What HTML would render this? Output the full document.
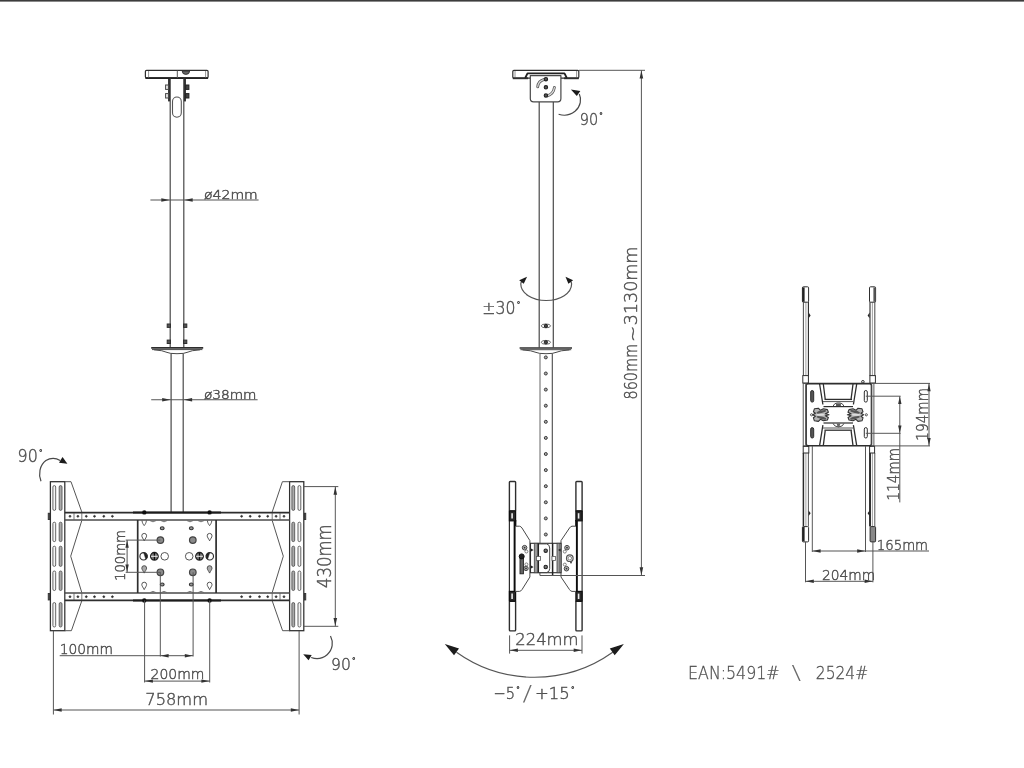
<!DOCTYPE html>
<html><head><meta charset="utf-8"><title>Ceiling mount dimensions</title>
<style>
html,body{margin:0;padding:0;background:#fff;}
body{width:1024px;height:768px;overflow:hidden;}
svg{display:block;}
</style></head>
<body>
<svg width="1024" height="768" viewBox="0 0 1024 768">
<defs><filter id="soft" x="-2%" y="-2%" width="104%" height="104%"><feGaussianBlur stdDeviation="0.35"/></filter></defs>
<rect x="0" y="0" width="1024" height="768" fill="#fff"/>
<rect x="0" y="0" width="1024" height="1.6" fill="#3c3c3c"/>
<g filter="url(#soft)">
<rect x="145.4" y="70.3" width="62.7" height="7.6" rx="1.2" stroke="#2e2e2e" stroke-width="1.2" fill="none"/>
<line x1="145.4" y1="78.1" x2="208.1" y2="78.1" stroke="#222" stroke-width="1.9" />
<line x1="177.3" y1="70.5" x2="177.3" y2="78" stroke="#555" stroke-width="1" />
<line x1="148.6" y1="71" x2="148.6" y2="77.5" stroke="#777" stroke-width="0.8" />
<line x1="205.6" y1="71" x2="205.6" y2="77.5" stroke="#777" stroke-width="0.8" />
<path d="M182.2,71 A3.7,3.4 0 0 0 189.6,71 Z" stroke="#2e2e2e" stroke-width="0.9" fill="#666" stroke-linejoin="round" />
<line x1="169.1" y1="78.5" x2="169.1" y2="101.4" stroke="#222" stroke-width="2.0" />
<line x1="184.9" y1="78.5" x2="184.9" y2="101.4" stroke="#222" stroke-width="2.0" />
<rect x="165.6" y="85.0" width="2.8" height="4.4" rx="0" stroke="#444" stroke-width="1" fill="#eee"/>
<rect x="185.7" y="85.0" width="3.2" height="4.4" rx="0" stroke="#222" stroke-width="1" fill="#444"/>
<rect x="165.6" y="93.6" width="2.8" height="4.4" rx="0" stroke="#444" stroke-width="1" fill="#eee"/>
<rect x="185.7" y="93.6" width="3.2" height="4.4" rx="0" stroke="#222" stroke-width="1" fill="#444"/>
<line x1="170.2" y1="78.5" x2="170.2" y2="347.5" stroke="#484848" stroke-width="1.2" />
<line x1="183.8" y1="78.5" x2="183.8" y2="347.5" stroke="#484848" stroke-width="1.2" />
<rect x="172.5" y="97" width="8.8" height="20.2" rx="4.4" stroke="#555" stroke-width="1.1" fill="none"/>
<line x1="150.4" y1="200" x2="258.6" y2="200" stroke="#555" stroke-width="1.1" />
<polygon points="169.60,200.00 161.30,201.70 161.30,198.30" fill="#333"/>
<polygon points="184.40,200.00 192.70,198.30 192.70,201.70" fill="#333"/>
<text x="204" y="198.6" font-size="11.55" font-family="'DejaVu Sans Light','DejaVu Sans','Liberation Sans',sans-serif" font-weight="200" fill="#505050" stroke="#505050" stroke-width="0.45" text-anchor="start" textLength="53.8" lengthAdjust="spacingAndGlyphs">ø42mm</text>
<rect x="167.2" y="324.0" width="3.2" height="3.4" rx="0" stroke="#2e2e2e" stroke-width="1" fill="#555"/>
<rect x="183.6" y="324.0" width="3.2" height="3.4" rx="0" stroke="#2e2e2e" stroke-width="1" fill="#555"/>
<rect x="167.2" y="340.1" width="3.2" height="3.4" rx="0" stroke="#2e2e2e" stroke-width="1" fill="#555"/>
<rect x="183.6" y="340.1" width="3.2" height="3.4" rx="0" stroke="#2e2e2e" stroke-width="1" fill="#555"/>
<line x1="151.2" y1="347.9" x2="203.2" y2="347.9" stroke="#2e2e2e" stroke-width="1.6" />
<line x1="152" y1="349.6" x2="202.4" y2="349.6" stroke="#484848" stroke-width="1" />
<path d="M154,349.8 Q163,350.4 167,352.4 Q169.5,353.7 177,353.7 Q184.5,353.7 187,352.4 Q191,350.4 200,349.8" stroke="#484848" stroke-width="1" fill="none" stroke-linejoin="round" />
<line x1="171.1" y1="353.5" x2="171.1" y2="512" stroke="#484848" stroke-width="1.2" />
<line x1="183.2" y1="353.5" x2="183.2" y2="512" stroke="#484848" stroke-width="1.2" />
<line x1="151.2" y1="399.8" x2="257.6" y2="399.8" stroke="#555" stroke-width="1.1" />
<polygon points="170.50,399.80 162.20,401.50 162.20,398.10" fill="#333"/>
<polygon points="183.80,399.80 192.10,398.10 192.10,401.50" fill="#333"/>
<text x="203.9" y="398.6" font-size="11.55" font-family="'DejaVu Sans Light','DejaVu Sans','Liberation Sans',sans-serif" font-weight="200" fill="#505050" stroke="#505050" stroke-width="0.45" text-anchor="start" textLength="52.6" lengthAdjust="spacingAndGlyphs">ø38mm</text>
<rect x="50.4" y="481.7" width="14.399999999999999" height="149.0" rx="0" stroke="#2e2e2e" stroke-width="1.25" fill="none"/>
<rect x="52.9" y="485.6" width="2.8" height="24.799999999999955" rx="1.4" stroke="#555" stroke-width="0.9" fill="#f4f4f4"/>
<rect x="52.9" y="522.2" width="2.8" height="19.399999999999977" rx="1.4" stroke="#555" stroke-width="0.9" fill="#f4f4f4"/>
<rect x="52.9" y="546.2" width="2.8" height="20.199999999999932" rx="1.4" stroke="#555" stroke-width="0.9" fill="#f4f4f4"/>
<rect x="52.9" y="571" width="2.8" height="19.5" rx="1.4" stroke="#555" stroke-width="0.9" fill="#f4f4f4"/>
<rect x="52.9" y="602.6" width="2.8" height="24.399999999999977" rx="1.4" stroke="#555" stroke-width="0.9" fill="#f4f4f4"/>
<rect x="59.2" y="485.6" width="2.8" height="24.799999999999955" rx="1.4" stroke="#555" stroke-width="0.9" fill="#aaa"/>
<rect x="59.2" y="522.2" width="2.8" height="19.399999999999977" rx="1.4" stroke="#555" stroke-width="0.9" fill="#aaa"/>
<rect x="59.2" y="546.2" width="2.8" height="20.199999999999932" rx="1.4" stroke="#555" stroke-width="0.9" fill="#aaa"/>
<rect x="59.2" y="571" width="2.8" height="19.5" rx="1.4" stroke="#555" stroke-width="0.9" fill="#aaa"/>
<rect x="59.2" y="602.6" width="2.8" height="24.399999999999977" rx="1.4" stroke="#555" stroke-width="0.9" fill="#aaa"/>
<rect x="289.6" y="481.7" width="14.199999999999989" height="149.0" rx="0" stroke="#2e2e2e" stroke-width="1.25" fill="none"/>
<rect x="291.90000000000003" y="485.6" width="2.8" height="24.799999999999955" rx="1.4" stroke="#555" stroke-width="0.9" fill="#aaa"/>
<rect x="291.90000000000003" y="522.2" width="2.8" height="19.399999999999977" rx="1.4" stroke="#555" stroke-width="0.9" fill="#aaa"/>
<rect x="291.90000000000003" y="546.2" width="2.8" height="20.199999999999932" rx="1.4" stroke="#555" stroke-width="0.9" fill="#aaa"/>
<rect x="291.90000000000003" y="571" width="2.8" height="19.5" rx="1.4" stroke="#555" stroke-width="0.9" fill="#aaa"/>
<rect x="291.90000000000003" y="602.6" width="2.8" height="24.399999999999977" rx="1.4" stroke="#555" stroke-width="0.9" fill="#aaa"/>
<rect x="298.0" y="485.6" width="2.8" height="24.799999999999955" rx="1.4" stroke="#555" stroke-width="0.9" fill="#f4f4f4"/>
<rect x="298.0" y="522.2" width="2.8" height="19.399999999999977" rx="1.4" stroke="#555" stroke-width="0.9" fill="#f4f4f4"/>
<rect x="298.0" y="546.2" width="2.8" height="20.199999999999932" rx="1.4" stroke="#555" stroke-width="0.9" fill="#f4f4f4"/>
<rect x="298.0" y="571" width="2.8" height="19.5" rx="1.4" stroke="#555" stroke-width="0.9" fill="#f4f4f4"/>
<rect x="298.0" y="602.6" width="2.8" height="24.399999999999977" rx="1.4" stroke="#555" stroke-width="0.9" fill="#f4f4f4"/>
<rect x="48.2" y="513.2" width="1.6" height="6.4" rx="0" stroke="#2e2e2e" stroke-width="0.8" fill="#444"/>
<rect x="304.4" y="513.2" width="1.4" height="6.4" rx="0" stroke="#2e2e2e" stroke-width="0.8" fill="#444"/>
<rect x="48.2" y="593.6" width="1.6" height="6.4" rx="0" stroke="#2e2e2e" stroke-width="0.8" fill="#444"/>
<rect x="304.4" y="593.6" width="1.4" height="6.4" rx="0" stroke="#2e2e2e" stroke-width="0.8" fill="#444"/>
<line x1="64.8" y1="512.6" x2="289.6" y2="512.6" stroke="#2e2e2e" stroke-width="1.7" />
<line x1="64.8" y1="520.0" x2="289.6" y2="520.0" stroke="#4a4a4a" stroke-width="1.5" />
<line x1="64.8" y1="593.1" x2="289.6" y2="593.1" stroke="#4a4a4a" stroke-width="1.5" />
<line x1="64.8" y1="600.3" x2="289.6" y2="600.3" stroke="#2e2e2e" stroke-width="1.7" />
<line x1="133" y1="512.4" x2="221" y2="512.4" stroke="#1c1c1c" stroke-width="2.0" />
<line x1="133" y1="600.5" x2="221" y2="600.5" stroke="#1c1c1c" stroke-width="2.0" />
<circle cx="70" cy="516.3" r="0.9" stroke="#2e2e2e" stroke-width="0.8" fill="#333"/>
<circle cx="284" cy="516.3" r="0.9" stroke="#2e2e2e" stroke-width="0.8" fill="#333"/>
<circle cx="77.9" cy="516.3" r="0.9" stroke="#2e2e2e" stroke-width="0.8" fill="#333"/>
<circle cx="276.1" cy="516.3" r="0.9" stroke="#2e2e2e" stroke-width="0.8" fill="#333"/>
<circle cx="86.3" cy="516.3" r="0.9" stroke="#2e2e2e" stroke-width="0.8" fill="#333"/>
<circle cx="267.7" cy="516.3" r="0.9" stroke="#2e2e2e" stroke-width="0.8" fill="#333"/>
<circle cx="94.5" cy="516.3" r="0.9" stroke="#2e2e2e" stroke-width="0.8" fill="#333"/>
<circle cx="259.5" cy="516.3" r="0.9" stroke="#2e2e2e" stroke-width="0.8" fill="#333"/>
<circle cx="103.8" cy="516.3" r="0.9" stroke="#2e2e2e" stroke-width="0.8" fill="#333"/>
<circle cx="250.2" cy="516.3" r="0.9" stroke="#2e2e2e" stroke-width="0.8" fill="#333"/>
<circle cx="112.4" cy="516.3" r="0.9" stroke="#2e2e2e" stroke-width="0.8" fill="#333"/>
<circle cx="241.6" cy="516.3" r="0.9" stroke="#2e2e2e" stroke-width="0.8" fill="#333"/>
<line x1="74" y1="512.9" x2="74" y2="519.6999999999999" stroke="#555" stroke-width="0.8" />
<line x1="280" y1="512.9" x2="280" y2="519.6999999999999" stroke="#555" stroke-width="0.8" />
<line x1="81.8" y1="512.9" x2="81.8" y2="519.6999999999999" stroke="#555" stroke-width="0.8" />
<line x1="272.2" y1="512.9" x2="272.2" y2="519.6999999999999" stroke="#555" stroke-width="0.8" />
<circle cx="70" cy="596.7" r="0.9" stroke="#2e2e2e" stroke-width="0.8" fill="#333"/>
<circle cx="284" cy="596.7" r="0.9" stroke="#2e2e2e" stroke-width="0.8" fill="#333"/>
<circle cx="77.9" cy="596.7" r="0.9" stroke="#2e2e2e" stroke-width="0.8" fill="#333"/>
<circle cx="276.1" cy="596.7" r="0.9" stroke="#2e2e2e" stroke-width="0.8" fill="#333"/>
<circle cx="86.3" cy="596.7" r="0.9" stroke="#2e2e2e" stroke-width="0.8" fill="#333"/>
<circle cx="267.7" cy="596.7" r="0.9" stroke="#2e2e2e" stroke-width="0.8" fill="#333"/>
<circle cx="94.5" cy="596.7" r="0.9" stroke="#2e2e2e" stroke-width="0.8" fill="#333"/>
<circle cx="259.5" cy="596.7" r="0.9" stroke="#2e2e2e" stroke-width="0.8" fill="#333"/>
<circle cx="103.8" cy="596.7" r="0.9" stroke="#2e2e2e" stroke-width="0.8" fill="#333"/>
<circle cx="250.2" cy="596.7" r="0.9" stroke="#2e2e2e" stroke-width="0.8" fill="#333"/>
<circle cx="112.4" cy="596.7" r="0.9" stroke="#2e2e2e" stroke-width="0.8" fill="#333"/>
<circle cx="241.6" cy="596.7" r="0.9" stroke="#2e2e2e" stroke-width="0.8" fill="#333"/>
<line x1="74" y1="593.3000000000001" x2="74" y2="600.1" stroke="#555" stroke-width="0.8" />
<line x1="280" y1="593.3000000000001" x2="280" y2="600.1" stroke="#555" stroke-width="0.8" />
<line x1="81.8" y1="593.3000000000001" x2="81.8" y2="600.1" stroke="#555" stroke-width="0.8" />
<line x1="272.2" y1="593.3000000000001" x2="272.2" y2="600.1" stroke="#555" stroke-width="0.8" />
<circle cx="144.3" cy="512.4" r="2.2" stroke="#2e2e2e" stroke-width="0" fill="#111"/>
<circle cx="144.3" cy="600.5" r="2.2" stroke="#2e2e2e" stroke-width="0" fill="#111"/>
<circle cx="209.6" cy="512.4" r="2.2" stroke="#2e2e2e" stroke-width="0" fill="#111"/>
<circle cx="209.6" cy="600.5" r="2.2" stroke="#2e2e2e" stroke-width="0" fill="#111"/>
<path d="M64.8,481.7 L71,481.7 L81.8,512" stroke="#555" stroke-width="1" fill="none" stroke-linejoin="round" />
<path d="M81.8,520.5 L70.7,556.2 L81.8,592.6" stroke="#555" stroke-width="1" fill="none" stroke-linejoin="round" />
<path d="M81.8,600.8 L71.4,630.7 L64.8,630.7" stroke="#555" stroke-width="1" fill="none" stroke-linejoin="round" />
<path d="M289.6,481.7 L282.4,481.7 L272.2,512" stroke="#555" stroke-width="1" fill="none" stroke-linejoin="round" />
<path d="M272.2,520.5 L283.3,556.2 L272.2,592.6" stroke="#555" stroke-width="1" fill="none" stroke-linejoin="round" />
<path d="M272.2,600.8 L282.6,630.7 L289.6,630.7" stroke="#555" stroke-width="1" fill="none" stroke-linejoin="round" />
<line x1="137.7" y1="520" x2="137.7" y2="593" stroke="#2e2e2e" stroke-width="1.7" />
<line x1="216.1" y1="520" x2="216.1" y2="593" stroke="#2e2e2e" stroke-width="1.7" />
<circle cx="160.4" cy="540.1" r="3.3" stroke="#444" stroke-width="1.2" fill="#8a8a8a"/>
<circle cx="160.4" cy="572.3" r="3.3" stroke="#444" stroke-width="1.2" fill="#8a8a8a"/>
<circle cx="192.8" cy="540.1" r="3.3" stroke="#444" stroke-width="1.2" fill="#8a8a8a"/>
<circle cx="192.8" cy="572.3" r="3.3" stroke="#444" stroke-width="1.2" fill="#8a8a8a"/>
<ellipse cx="162.2" cy="528.2" rx="1.9" ry="1.5" stroke="#333" stroke-width="1.1" fill="#999"/>
<ellipse cx="162.2" cy="584.5" rx="1.9" ry="1.5" stroke="#333" stroke-width="1.1" fill="#999"/>
<ellipse cx="191.3" cy="528.2" rx="1.9" ry="1.5" stroke="#333" stroke-width="1.1" fill="#999"/>
<ellipse cx="191.3" cy="584.5" rx="1.9" ry="1.5" stroke="#333" stroke-width="1.1" fill="#999"/>
<circle cx="143.6" cy="556.3" r="3.7" stroke="#2e2e2e" stroke-width="1.1" fill="none"/>
<path d="M143.6,552.6 A3.7,3.7 0 0 1 145.8,559.3 Z" stroke="#2e2e2e" stroke-width="0.5" fill="#222" stroke-linejoin="round" />
<circle cx="154.4" cy="556.3" r="3.8" stroke="#222" stroke-width="1.3" fill="#777"/>
<line x1="154.4" y1="552.6" x2="154.4" y2="560" stroke="#111" stroke-width="1.2" />
<line x1="151" y1="556.3" x2="157.8" y2="556.3" stroke="#eee" stroke-width="1" />
<circle cx="164.7" cy="556.3" r="3.8" stroke="#555" stroke-width="1" fill="none"/>
<circle cx="189.2" cy="556.3" r="3.8" stroke="#555" stroke-width="1" fill="none"/>
<circle cx="199.5" cy="556.3" r="3.8" stroke="#222" stroke-width="1.3" fill="#777"/>
<line x1="199.5" y1="552.6" x2="199.5" y2="560" stroke="#111" stroke-width="1.2" />
<line x1="196.1" y1="556.3" x2="202.9" y2="556.3" stroke="#eee" stroke-width="1" />
<circle cx="209.8" cy="556.3" r="3.7" stroke="#2e2e2e" stroke-width="1.1" fill="none"/>
<path d="M209.8,552.6 A3.7,3.7 0 0 0 207.6,559.3 Z" stroke="#2e2e2e" stroke-width="0.5" fill="#222" stroke-linejoin="round" />
<path d="M144.2,540.8000000000001 C143.2,538.7 141.79999999999998,537.2 141.79999999999998,535.8000000000001 A2.4,2.4 0 0 1 146.6,535.8000000000001 C146.6,537.2 145.2,538.7 144.2,540.8000000000001 Z" stroke="#444" stroke-width="0.9" fill="none" stroke-linejoin="round" />
<path d="M144.2,573.1 C143.2,571.0 141.79999999999998,569.5 141.79999999999998,568.1 A2.4,2.4 0 0 1 146.6,568.1 C146.6,569.5 145.2,571.0 144.2,573.1 Z" stroke="#444" stroke-width="0.9" fill="#aaa" stroke-linejoin="round" />
<path d="M144.2,589.6 C143.2,587.5 141.79999999999998,586 141.79999999999998,584.6 A2.4,2.4 0 0 1 146.6,584.6 C146.6,586 145.2,587.5 144.2,589.6 Z" stroke="#444" stroke-width="0.9" fill="none" stroke-linejoin="round" />
<path d="M142.0,520.6 C142.2,523 143.39999999999998,524.6 144.2,525.6 C145.0,524.6 146.2,523 146.39999999999998,520.6" stroke="#444" stroke-width="0.9" fill="none" stroke-linejoin="round" />
<path d="M209.6,540.8000000000001 C208.6,538.7 207.2,537.2 207.2,535.8000000000001 A2.4,2.4 0 0 1 212.0,535.8000000000001 C212.0,537.2 210.6,538.7 209.6,540.8000000000001 Z" stroke="#444" stroke-width="0.9" fill="none" stroke-linejoin="round" />
<path d="M209.6,573.1 C208.6,571.0 207.2,569.5 207.2,568.1 A2.4,2.4 0 0 1 212.0,568.1 C212.0,569.5 210.6,571.0 209.6,573.1 Z" stroke="#444" stroke-width="0.9" fill="#aaa" stroke-linejoin="round" />
<path d="M209.6,589.6 C208.6,587.5 207.2,586 207.2,584.6 A2.4,2.4 0 0 1 212.0,584.6 C212.0,586 210.6,587.5 209.6,589.6 Z" stroke="#444" stroke-width="0.9" fill="none" stroke-linejoin="round" />
<path d="M207.4,520.6 C207.6,523 208.79999999999998,524.6 209.6,525.6 C210.4,524.6 211.6,523 211.79999999999998,520.6" stroke="#444" stroke-width="0.9" fill="none" stroke-linejoin="round" />
<path d="M150,520.6 Q153,523 156,520.6" stroke="#666" stroke-width="0.9" fill="none" stroke-linejoin="round" />
<path d="M150,592.6 Q153,590.2 156,592.6" stroke="#666" stroke-width="0.9" fill="none" stroke-linejoin="round" />
<path d="M161,520.6 Q164,523 167,520.6" stroke="#666" stroke-width="0.9" fill="none" stroke-linejoin="round" />
<path d="M161,592.6 Q164,590.2 167,592.6" stroke="#666" stroke-width="0.9" fill="none" stroke-linejoin="round" />
<path d="M187,520.6 Q190,523 193,520.6" stroke="#666" stroke-width="0.9" fill="none" stroke-linejoin="round" />
<path d="M187,592.6 Q190,590.2 193,592.6" stroke="#666" stroke-width="0.9" fill="none" stroke-linejoin="round" />
<path d="M198,520.6 Q201,523 204,520.6" stroke="#666" stroke-width="0.9" fill="none" stroke-linejoin="round" />
<path d="M198,592.6 Q201,590.2 204,592.6" stroke="#666" stroke-width="0.9" fill="none" stroke-linejoin="round" />
<line x1="125.7" y1="540.1" x2="160.4" y2="540.1" stroke="#555" stroke-width="1" />
<line x1="125.7" y1="572.3" x2="160.4" y2="572.3" stroke="#555" stroke-width="1" />
<line x1="127.1" y1="540.1" x2="127.1" y2="572.3" stroke="#555" stroke-width="1" />
<polygon points="127.10,540.30 128.80,547.80 125.40,547.80" fill="#333"/>
<polygon points="127.10,572.10 125.40,564.60 128.80,564.60" fill="#333"/>
<text x="125.3" y="581" font-size="14.49" font-family="'DejaVu Sans Light','DejaVu Sans','Liberation Sans',sans-serif" font-weight="200" fill="#505050" stroke="#505050" stroke-width="0.45" text-anchor="start" textLength="51" lengthAdjust="spacingAndGlyphs" transform="rotate(-90 125.3 581)">100mm</text>
<line x1="144.6" y1="600.5" x2="144.6" y2="682.5" stroke="#555" stroke-width="1" />
<line x1="209.7" y1="600.5" x2="209.7" y2="682.5" stroke="#555" stroke-width="1" />
<line x1="160.3" y1="572.3" x2="160.3" y2="656.5" stroke="#555" stroke-width="1" />
<line x1="193.1" y1="572.3" x2="193.1" y2="656.5" stroke="#555" stroke-width="1" />
<line x1="59.7" y1="655.7" x2="193.1" y2="655.7" stroke="#555" stroke-width="1" />
<polygon points="160.60,655.70 168.60,654.00 168.60,657.40" fill="#333"/>
<polygon points="192.80,655.70 184.80,657.40 184.80,654.00" fill="#333"/>
<text x="59.7" y="654.3" font-size="13.55" font-family="'DejaVu Sans Light','DejaVu Sans','Liberation Sans',sans-serif" font-weight="200" fill="#505050" stroke="#505050" stroke-width="0.45" text-anchor="start" textLength="53.3" lengthAdjust="spacingAndGlyphs">100mm</text>
<line x1="144.6" y1="681.1" x2="209.7" y2="681.1" stroke="#555" stroke-width="1" />
<polygon points="144.90,681.10 152.90,679.40 152.90,682.80" fill="#333"/>
<polygon points="209.40,681.10 201.40,682.80 201.40,679.40" fill="#333"/>
<text x="150.6" y="679" font-size="13.65" font-family="'DejaVu Sans Light','DejaVu Sans','Liberation Sans',sans-serif" font-weight="200" fill="#505050" stroke="#505050" stroke-width="0.45" text-anchor="start" textLength="53.9" lengthAdjust="spacingAndGlyphs">200mm</text>
<line x1="53.4" y1="631" x2="53.4" y2="714.5" stroke="#555" stroke-width="1" />
<line x1="299.1" y1="631" x2="299.1" y2="714.5" stroke="#555" stroke-width="1" />
<line x1="53.4" y1="710" x2="299.1" y2="710" stroke="#555" stroke-width="1" />
<polygon points="53.70,710.00 61.70,708.20 61.70,711.80" fill="#333"/>
<polygon points="298.80,710.00 290.80,711.80 290.80,708.20" fill="#333"/>
<text x="145.3" y="705.2" font-size="16.38" font-family="'DejaVu Sans Light','DejaVu Sans','Liberation Sans',sans-serif" font-weight="200" fill="#505050" stroke="#505050" stroke-width="0.45" text-anchor="start" textLength="62.7" lengthAdjust="spacingAndGlyphs">758mm</text>
<line x1="303.8" y1="486.6" x2="338.3" y2="486.6" stroke="#555" stroke-width="1" />
<line x1="303.8" y1="626.3" x2="338.3" y2="626.3" stroke="#555" stroke-width="1" />
<line x1="335.3" y1="486.5" x2="335.3" y2="626.3" stroke="#555" stroke-width="1" />
<polygon points="335.30,486.80 337.10,494.80 333.50,494.80" fill="#333"/>
<polygon points="335.30,626.00 333.50,618.00 337.10,618.00" fill="#333"/>
<text x="331.4" y="588" font-size="19.74" font-family="'DejaVu Sans Light','DejaVu Sans','Liberation Sans',sans-serif" font-weight="200" fill="#505050" stroke="#505050" stroke-width="0.45" text-anchor="start" textLength="63.5" lengthAdjust="spacingAndGlyphs" transform="rotate(-90 331.4 588)">430mm</text>
<text x="17.6" y="461.7" font-size="17.22" font-family="'DejaVu Sans Light','DejaVu Sans','Liberation Sans',sans-serif" font-weight="200" fill="#505050" stroke="#505050" stroke-width="0.45" text-anchor="start" textLength="20.2" lengthAdjust="spacingAndGlyphs">90</text>
<text x="38.70" y="456.53" font-size="10.68" font-family="'DejaVu Sans Light','DejaVu Sans','Liberation Sans',sans-serif" font-weight="200" fill="#444" stroke="#444" stroke-width="0.6" textLength="4" lengthAdjust="spacingAndGlyphs">°</text>
<path d="M41,481.3 C38.2,474 39.5,465.5 45.9,460.6 C50.5,457.6 55.5,457.6 60.2,460.4" stroke="#484848" stroke-width="1.2" fill="none" stroke-linejoin="round" />
<polygon points="67.4,463.7 62.5,456.9 59,462.7" fill="#1a1a1a"/>
<text x="331" y="669.6" font-size="16.17" font-family="'DejaVu Sans Light','DejaVu Sans','Liberation Sans',sans-serif" font-weight="200" fill="#505050" stroke="#505050" stroke-width="0.45" text-anchor="start" textLength="19.8" lengthAdjust="spacingAndGlyphs">90</text>
<text x="351.70" y="664.75" font-size="10.03" font-family="'DejaVu Sans Light','DejaVu Sans','Liberation Sans',sans-serif" font-weight="200" fill="#444" stroke="#444" stroke-width="0.6" textLength="4" lengthAdjust="spacingAndGlyphs">°</text>
<path d="M330.5,636.1 C333.5,642 333,649.5 327.1,654.7 C322.5,658.6 316.5,659.5 311.2,657.5" stroke="#484848" stroke-width="1.2" fill="none" stroke-linejoin="round" />
<polygon points="303.2,654.2 311.7,655 308.6,660.2" fill="#1a1a1a"/>
<rect x="512.8" y="70.3" width="66" height="7.8" rx="1.2" stroke="#2e2e2e" stroke-width="1.2" fill="none"/>
<line x1="515" y1="71" x2="515" y2="77.5" stroke="#777" stroke-width="0.8" />
<line x1="576.6" y1="71" x2="576.6" y2="77.5" stroke="#777" stroke-width="0.8" />
<line x1="512.8" y1="78.3" x2="528" y2="78.3" stroke="#2e2e2e" stroke-width="1.8" />
<line x1="564" y1="78.3" x2="578.8" y2="78.3" stroke="#2e2e2e" stroke-width="1.8" />
<path d="M525.2,78 L527.5,73.3 L564.5,73.3 L566.8,78" stroke="#222" stroke-width="1.8" fill="none" stroke-linejoin="round" />
<line x1="578.8" y1="70.3" x2="645" y2="70.3" stroke="#555" stroke-width="1" />
<path d="M530.3,75.6 L530.3,98.6 Q530.3,101.9 533.6,101.9 L557.6,101.9 Q560.9,101.9 560.9,98.6 L560.9,75.6 Z" stroke="#484848" stroke-width="1.2" fill="#fff" stroke-linejoin="round" />
<path d="M537.7,86.8 Q538.2,81 544.3,79.4" stroke="#555" stroke-width="2.8" fill="none" stroke-linejoin="round" stroke-linecap="round"/>
<path d="M537.7,86.8 Q538.2,81 544.3,79.4" stroke="#ddd" stroke-width="1.2" fill="none" stroke-linejoin="round" stroke-linecap="round"/>
<path d="M547.3,95.8 Q553.6,94 554.4,87.4" stroke="#555" stroke-width="2.8" fill="none" stroke-linejoin="round" stroke-linecap="round"/>
<path d="M547.3,95.8 Q553.6,94 554.4,87.4" stroke="#ddd" stroke-width="1.2" fill="none" stroke-linejoin="round" stroke-linecap="round"/>
<circle cx="545.9" cy="79.2" r="1.7" stroke="#222" stroke-width="1.1" fill="#555"/>
<circle cx="545.9" cy="87.3" r="1.7" stroke="#222" stroke-width="1.1" fill="#555"/>
<circle cx="545.9" cy="95.6" r="1.7" stroke="#222" stroke-width="1.1" fill="#555"/>
<line x1="539.2" y1="101.9" x2="539.2" y2="347.5" stroke="#484848" stroke-width="1.2" />
<line x1="553.3" y1="101.9" x2="553.3" y2="347.5" stroke="#484848" stroke-width="1.2" />
<path d="M579.3,94 C581.6,99 581,106 575,111.3 C570.5,115 564.5,116.2 558.6,114.2" stroke="#484848" stroke-width="1.2" fill="none" stroke-linejoin="round" />
<polygon points="570.9,89.6 580.3,91.1 576.8,96" fill="#1a1a1a"/>
<text x="579.7" y="125.3" font-size="16.59" font-family="'DejaVu Sans Light','DejaVu Sans','Liberation Sans',sans-serif" font-weight="200" fill="#505050" stroke="#505050" stroke-width="0.45" text-anchor="start" textLength="18.4" lengthAdjust="spacingAndGlyphs">90</text>
<text x="599.00" y="120.32" font-size="10.29" font-family="'DejaVu Sans Light','DejaVu Sans','Liberation Sans',sans-serif" font-weight="200" fill="#444" stroke="#444" stroke-width="0.6" textLength="4" lengthAdjust="spacingAndGlyphs">°</text>
<path d="M521.6,281.6 Q520.8,282.6 520.8,284 A25.4,16.5 0 0 0 571.6,284 Q571.6,282.6 570.8,281.6" stroke="#555" stroke-width="1.2" fill="none" stroke-linejoin="round" />
<polygon points="527.1,276.7 519.2,280.2 523.7,283.8" fill="#1a1a1a"/>
<polygon points="565.5,276.7 573.1,280.2 568.4,283.8" fill="#1a1a1a"/>
<text x="482.3" y="313.6" font-size="16.8" font-family="'DejaVu Sans Light','DejaVu Sans','Liberation Sans',sans-serif" font-weight="200" fill="#505050" stroke="#505050" stroke-width="0.45" text-anchor="start" textLength="33.2" lengthAdjust="spacingAndGlyphs">±30</text>
<text x="516.40" y="308.56" font-size="10.42" font-family="'DejaVu Sans Light','DejaVu Sans','Liberation Sans',sans-serif" font-weight="200" fill="#444" stroke="#444" stroke-width="0.6" textLength="4" lengthAdjust="spacingAndGlyphs">°</text>
<ellipse cx="545.9" cy="325.9" rx="4.6" ry="1.9" stroke="#555" stroke-width="0.9" fill="none"/>
<circle cx="545.9" cy="325.9" r="1.6" stroke="#222" stroke-width="1" fill="#444"/>
<ellipse cx="545.9" cy="342.3" rx="4.6" ry="1.9" stroke="#555" stroke-width="0.9" fill="none"/>
<circle cx="545.9" cy="342.3" r="1.6" stroke="#222" stroke-width="1" fill="#444"/>
<line x1="519.6" y1="348" x2="572" y2="348" stroke="#2e2e2e" stroke-width="1.7" />
<line x1="520.4" y1="349.7" x2="571.2" y2="349.7" stroke="#484848" stroke-width="1" />
<path d="M522.5,349.9 Q532,350.5 536,352.4 Q538.5,353.7 546,353.7 Q553.5,353.7 556,352.4 Q560,350.5 569.5,349.9" stroke="#484848" stroke-width="1" fill="none" stroke-linejoin="round" />
<line x1="540" y1="353.5" x2="540" y2="543" stroke="#666" stroke-width="1.0" />
<line x1="552.3" y1="353.5" x2="552.3" y2="543" stroke="#484848" stroke-width="1.1" />
<circle cx="545.8" cy="357.4" r="1.5" stroke="#3a3a3a" stroke-width="1.0" fill="#aaa"/>
<circle cx="545.8" cy="373.5" r="1.5" stroke="#3a3a3a" stroke-width="1.0" fill="#aaa"/>
<circle cx="545.8" cy="389.59999999999997" r="1.5" stroke="#3a3a3a" stroke-width="1.0" fill="#aaa"/>
<circle cx="545.8" cy="405.7" r="1.5" stroke="#3a3a3a" stroke-width="1.0" fill="#aaa"/>
<circle cx="545.8" cy="421.79999999999995" r="1.5" stroke="#3a3a3a" stroke-width="1.0" fill="#aaa"/>
<circle cx="545.8" cy="437.9" r="1.5" stroke="#3a3a3a" stroke-width="1.0" fill="#aaa"/>
<circle cx="545.8" cy="454.0" r="1.5" stroke="#3a3a3a" stroke-width="1.0" fill="#aaa"/>
<circle cx="545.8" cy="470.1" r="1.5" stroke="#3a3a3a" stroke-width="1.0" fill="#aaa"/>
<circle cx="545.8" cy="486.2" r="1.5" stroke="#3a3a3a" stroke-width="1.0" fill="#aaa"/>
<circle cx="545.8" cy="502.29999999999995" r="1.5" stroke="#3a3a3a" stroke-width="1.0" fill="#aaa"/>
<circle cx="545.8" cy="518.4" r="1.5" stroke="#3a3a3a" stroke-width="1.0" fill="#aaa"/>
<circle cx="545.8" cy="534.5" r="1.5" stroke="#3a3a3a" stroke-width="1.0" fill="#aaa"/>
<line x1="641.4" y1="70.3" x2="641.4" y2="575.5" stroke="#555" stroke-width="1" />
<polygon points="641.40,70.60 643.20,78.60 639.60,78.60" fill="#333"/>
<polygon points="641.40,575.20 639.60,567.20 643.20,567.20" fill="#333"/>
<text y="399.4" font-size="17.22" font-family="'DejaVu Sans Light','DejaVu Sans','Liberation Sans',sans-serif" font-weight="200" fill="#505050" stroke="#505050" stroke-width="0.45" transform="rotate(-90 637.2 399.4)"><tspan x="637.2" textLength="55.4" lengthAdjust="spacingAndGlyphs">860mm</tspan><tspan x="694.6" dy="1.6" textLength="16.4" lengthAdjust="spacingAndGlyphs">~</tspan><tspan x="711.4" dy="-1.6" textLength="78.6" lengthAdjust="spacingAndGlyphs">3130mm</tspan></text>
<rect x="509.4" y="481.5" width="6.2000000000000455" height="29.5" rx="0.8" stroke="#2e2e2e" stroke-width="1.4" fill="none"/>
<rect x="509.4" y="601.2" width="6.2000000000000455" height="29.7" rx="0.8" stroke="#2e2e2e" stroke-width="1.4" fill="none"/>
<line x1="509.4" y1="511" x2="509.4" y2="601.2" stroke="#2e2e2e" stroke-width="1.2" />
<line x1="515.0" y1="520" x2="515.0" y2="592" stroke="#111" stroke-width="2.7" />
<rect x="509.4" y="511" width="6.2000000000000455" height="9.8" rx="0" stroke="#111" stroke-width="1.2" fill="#2a2a2a"/>
<line x1="512.1" y1="513.2" x2="512.1" y2="518.6" stroke="#eee" stroke-width="1.6" />
<rect x="509.4" y="591.4" width="6.2000000000000455" height="9.8" rx="0" stroke="#111" stroke-width="1.2" fill="#2a2a2a"/>
<line x1="512.1" y1="593.6" x2="512.1" y2="599.0" stroke="#eee" stroke-width="1.6" />
<rect x="575.9" y="481.5" width="6.2000000000000455" height="29.5" rx="0.8" stroke="#2e2e2e" stroke-width="1.4" fill="none"/>
<rect x="575.9" y="601.2" width="6.2000000000000455" height="29.7" rx="0.8" stroke="#2e2e2e" stroke-width="1.4" fill="none"/>
<line x1="582.1" y1="511" x2="582.1" y2="601.2" stroke="#2e2e2e" stroke-width="1.2" />
<line x1="576.5" y1="520" x2="576.5" y2="592" stroke="#111" stroke-width="2.7" />
<rect x="575.9" y="511" width="6.2000000000000455" height="9.8" rx="0" stroke="#111" stroke-width="1.2" fill="#2a2a2a"/>
<line x1="578.6" y1="513.2" x2="578.6" y2="518.6" stroke="#eee" stroke-width="1.6" />
<rect x="575.9" y="591.4" width="6.2000000000000455" height="9.8" rx="0" stroke="#111" stroke-width="1.2" fill="#2a2a2a"/>
<line x1="578.6" y1="593.6" x2="578.6" y2="599.0" stroke="#eee" stroke-width="1.6" />
<path d="M515.6,526.2 L519.5,526.2 Q521,526.4 522,528 L529.9,540.6 L529.9,577 L522,589.6 Q521,591.2 519.5,591.4 L515.6,591.4" stroke="#484848" stroke-width="1" fill="#fff" stroke-linejoin="round" />
<path d="M575.9,526.2 L572,526.2 Q570.5,526.4 569.5,528 L561,540.6 L561,577 L569.5,589.6 Q570.5,591.2 572,591.4 L575.9,591.4" stroke="#484848" stroke-width="1" fill="#fff" stroke-linejoin="round" />
<rect x="530.5" y="543.3" width="30.5" height="29.4" rx="0" stroke="#2e2e2e" stroke-width="1.1" fill="#fff"/>
<rect x="534.3" y="543.3" width="3.9" height="29.4" rx="0" stroke="#444" stroke-width="0.8" fill="#9a9a9a"/>
<rect x="557" y="543.3" width="2.9" height="29.4" rx="0" stroke="#444" stroke-width="0.8" fill="#9a9a9a"/>
<line x1="538.3" y1="543.3" x2="538.3" y2="572.7" stroke="#222" stroke-width="1.5" />
<line x1="552.6" y1="543.3" x2="552.6" y2="576" stroke="#222" stroke-width="1.5" />
<path d="M538.8,543.9 L546.6,543.9 Q549.7,544.5 549.7,548 L549.7,568.5 Q549.7,572 546.6,572.6 L538.8,572.6" stroke="#484848" stroke-width="1" fill="none" stroke-linejoin="round" />
<circle cx="545.7" cy="550.7" r="1.7" stroke="#222" stroke-width="1.1" fill="#777"/>
<circle cx="545.7" cy="567" r="1.7" stroke="#222" stroke-width="1.1" fill="#777"/>
<rect x="536.4" y="556.4" width="4" height="4" rx="0" stroke="#555" stroke-width="0.8" fill="#fff"/>
<rect x="552" y="556.4" width="3.4" height="4" rx="0" stroke="#555" stroke-width="0.8" fill="#fff"/>
<polygon points="531,548.5 533.6,550 531,551.5" fill="#222"/>
<polygon points="531,565.5 533.6,567 531,568.5" fill="#222"/>
<polygon points="560.6,548.5 558,550 560.6,551.5" fill="#222"/>
<line x1="539.9" y1="572.7" x2="539.9" y2="575.5" stroke="#484848" stroke-width="1" />
<circle cx="524.6" cy="547.7" r="2.3" stroke="#444" stroke-width="1" fill="#bbb"/>
<circle cx="524.6" cy="547.7" r="0.9" stroke="#222" stroke-width="0" fill="#333"/>
<circle cx="526.4" cy="551.5" r="1.5" stroke="#666" stroke-width="0.8" fill="none"/>
<circle cx="526" cy="568.4" r="2.2" stroke="#444" stroke-width="1" fill="#bbb"/>
<circle cx="526" cy="568.4" r="0.9" stroke="#222" stroke-width="0" fill="#333"/>
<circle cx="526.4" cy="564.4" r="1.5" stroke="#666" stroke-width="0.8" fill="none"/>
<rect x="520" y="557" width="3.4" height="16.8" rx="0" stroke="#222" stroke-width="0.9" fill="#666"/>
<circle cx="521.7" cy="556.4" r="2.5" stroke="#111" stroke-width="1" fill="#222"/>
<circle cx="567" cy="547.7" r="2.3" stroke="#444" stroke-width="1" fill="#bbb"/>
<circle cx="567" cy="547.7" r="0.9" stroke="#222" stroke-width="0" fill="#333"/>
<circle cx="564.8" cy="551.6" r="1.5" stroke="#666" stroke-width="0.8" fill="none"/>
<circle cx="566.5" cy="568.7" r="2.3" stroke="#444" stroke-width="1" fill="#bbb"/>
<circle cx="566.5" cy="568.7" r="0.9" stroke="#222" stroke-width="0" fill="#333"/>
<circle cx="564.8" cy="564.6" r="1.5" stroke="#666" stroke-width="0.8" fill="none"/>
<circle cx="569.8" cy="558.2" r="3.3" stroke="#555" stroke-width="1.2" fill="none"/>
<circle cx="569.8" cy="558.2" r="1.8" stroke="#777" stroke-width="0.9" fill="none"/>
<circle cx="571" cy="562.6" r="0.9" stroke="#222" stroke-width="0" fill="#333"/>
<line x1="540" y1="575.5" x2="645" y2="575.5" stroke="#555" stroke-width="1" />
<line x1="509.6" y1="635.4" x2="509.6" y2="653.6" stroke="#555" stroke-width="1" />
<line x1="582" y1="635.4" x2="582" y2="653.6" stroke="#555" stroke-width="1" />
<line x1="509.6" y1="650.3" x2="582" y2="650.3" stroke="#555" stroke-width="1" />
<polygon points="509.90,650.30 517.90,648.50 517.90,652.10" fill="#333"/>
<polygon points="581.70,650.30 573.70,652.10 573.70,648.50" fill="#333"/>
<text x="515.3" y="645.4" font-size="15.96" font-family="'DejaVu Sans Light','DejaVu Sans','Liberation Sans',sans-serif" font-weight="200" fill="#505050" stroke="#505050" stroke-width="0.45" text-anchor="start" textLength="63.2" lengthAdjust="spacingAndGlyphs">224mm</text>
<path d="M456.5,652.3 A134.5,134.5 0 0 0 612.7,652.3" stroke="#555" stroke-width="1.1" fill="none" stroke-linejoin="round" />
<polygon points="444.8,644 459,648.4 454,655.3" fill="#1a1a1a"/>
<polygon points="623.9,644 609.8,648.4 614.7,655.3" fill="#1a1a1a"/>
<text x="493.6" y="699.2" font-size="16.38" font-family="'DejaVu Sans Light','DejaVu Sans','Liberation Sans',sans-serif" font-weight="200" fill="#505050" stroke="#505050" stroke-width="0.45" text-anchor="start" textLength="21.5" lengthAdjust="spacingAndGlyphs">−5</text>
<text x="516.00" y="694.29" font-size="10.16" font-family="'DejaVu Sans Light','DejaVu Sans','Liberation Sans',sans-serif" font-weight="200" fill="#444" stroke="#444" stroke-width="0.6" textLength="4" lengthAdjust="spacingAndGlyphs">°</text>
<text x="522.4" y="701" font-size="21.0" font-family="'DejaVu Sans Light','DejaVu Sans','Liberation Sans',sans-serif" font-weight="200" fill="#6a6a6a" stroke="#6a6a6a" stroke-width="0" text-anchor="start" textLength="9.6" lengthAdjust="spacingAndGlyphs">/</text>
<text x="535" y="699.2" font-size="16.38" font-family="'DejaVu Sans Light','DejaVu Sans','Liberation Sans',sans-serif" font-weight="200" fill="#505050" stroke="#505050" stroke-width="0.45" text-anchor="start" textLength="34.8" lengthAdjust="spacingAndGlyphs">+15</text>
<text x="570.70" y="694.29" font-size="10.16" font-family="'DejaVu Sans Light','DejaVu Sans','Liberation Sans',sans-serif" font-weight="200" fill="#444" stroke="#444" stroke-width="0.6" textLength="4" lengthAdjust="spacingAndGlyphs">°</text>
<line x1="803.4" y1="302" x2="803.4" y2="375.8" stroke="#555" stroke-width="1.1" />
<line x1="808.4" y1="302" x2="808.4" y2="375.8" stroke="#2a2a2a" stroke-width="1.1" />
<line x1="805.9" y1="302" x2="805.9" y2="375.8" stroke="#888" stroke-width="0.8" />
<rect x="802.8" y="375.6" width="5.600000000000046" height="7.4" rx="0" stroke="#2e2e2e" stroke-width="1" fill="none"/>
<line x1="803.4" y1="453" x2="803.4" y2="526.6" stroke="#2a2a2a" stroke-width="1.5" />
<line x1="808.4" y1="453" x2="808.4" y2="526.6" stroke="#555" stroke-width="1.0" />
<line x1="805.9" y1="453" x2="805.9" y2="526.6" stroke="#888" stroke-width="0.8" />
<rect x="802.4" y="286.8" width="6.2000000000000455" height="15.4" rx="1" stroke="#2e2e2e" stroke-width="1" fill="#fff"/>
<rect x="802.4" y="287.4" width="2.2" height="14.4" rx="0" stroke="#2e2e2e" stroke-width="0" fill="#222"/>
<rect x="802.4" y="526.6" width="6.2000000000000455" height="15.3" rx="1" stroke="#2e2e2e" stroke-width="1" fill="#fff"/>
<rect x="802.4" y="527" width="2.2" height="14.4" rx="0" stroke="#2e2e2e" stroke-width="0" fill="#222"/>
<line x1="870.0" y1="302" x2="870.0" y2="375.8" stroke="#2a2a2a" stroke-width="1.1" />
<line x1="874.8000000000001" y1="302" x2="874.8000000000001" y2="375.8" stroke="#555" stroke-width="1.1" />
<line x1="872.4000000000001" y1="302" x2="872.4000000000001" y2="375.8" stroke="#888" stroke-width="0.8" />
<rect x="869.9" y="375.6" width="5.500000000000023" height="7.4" rx="0" stroke="#2e2e2e" stroke-width="1" fill="none"/>
<line x1="870.0" y1="453" x2="870.0" y2="526.6" stroke="#2a2a2a" stroke-width="1.9" />
<line x1="874.8000000000001" y1="453" x2="874.8000000000001" y2="526.6" stroke="#555" stroke-width="1.0" />
<line x1="872.4000000000001" y1="453" x2="872.4000000000001" y2="526.6" stroke="#888" stroke-width="0.8" />
<rect x="869.5" y="286.8" width="6.100000000000023" height="15.4" rx="1" stroke="#2e2e2e" stroke-width="1" fill="#fff"/>
<rect x="873.4" y="287.4" width="2.2" height="14.4" rx="0" stroke="#2e2e2e" stroke-width="0" fill="#555"/>
<rect x="870.1" y="526.6" width="5.500000000000023" height="15.3" rx="1" stroke="#2e2e2e" stroke-width="1" fill="#888"/>
<polygon points="808.6,312.6 810.6,315.4 808.6,318.2" fill="#222"/>
<polygon points="869.6,312.6 867.6,315.4 869.6,318.2" fill="#222"/>
<polygon points="808.6,510.4 810.6,513.2 808.6,516" fill="#222"/>
<polygon points="869.6,510.4 867.6,513.2 869.6,516" fill="#222"/>
<rect x="803.2" y="446.4" width="5.6" height="6.6" rx="0" stroke="#2e2e2e" stroke-width="1" fill="none"/>
<rect x="869.6" y="446.4" width="5" height="6.6" rx="0" stroke="#2e2e2e" stroke-width="1" fill="none"/>
<rect x="806.1" y="383.6" width="65.4" height="62.2" rx="2" stroke="#2e2e2e" stroke-width="1.6" fill="none"/>
<rect x="803.2" y="383.6" width="3" height="62.2" rx="0" stroke="#484848" stroke-width="0.9" fill="none"/>
<rect x="871.5" y="383.6" width="2.4" height="62.2" rx="0" stroke="#484848" stroke-width="0.9" fill="none"/>
<circle cx="862.9" cy="381.8" r="1.3" stroke="#2e2e2e" stroke-width="1" fill="none"/>
<rect x="810.7" y="390.5" width="3" height="11.600000000000023" rx="1.5" stroke="#2e2e2e" stroke-width="1" fill="#555"/>
<rect x="864.3" y="390.5" width="3" height="11.600000000000023" rx="1.5" stroke="#2e2e2e" stroke-width="1" fill="#fff"/>
<rect x="810.7" y="427.6" width="3" height="10.399999999999977" rx="1.5" stroke="#2e2e2e" stroke-width="1" fill="#555"/>
<rect x="864.3" y="427.6" width="3" height="10.399999999999977" rx="1.5" stroke="#2e2e2e" stroke-width="1" fill="#fff"/>
<circle cx="811.6" cy="414.8" r="1.1" stroke="#444" stroke-width="0.9" fill="none"/>
<circle cx="866.3" cy="414.8" r="1.1" stroke="#444" stroke-width="0.9" fill="none"/>
<path d="M819.6,384 L822.9,404.5 M823.3,384 L825.2,399" stroke="#2e2e2e" stroke-width="1.3" fill="none" stroke-linejoin="round" />
<path d="M856.7,384 L853.4,404.5 M853,384 L851.1,399" stroke="#2e2e2e" stroke-width="1.3" fill="none" stroke-linejoin="round" />
<path d="M819.6,445.6 L822.9,425.1 M823.3,445.6 L825.2,430.6" stroke="#2e2e2e" stroke-width="1.3" fill="none" stroke-linejoin="round" />
<path d="M856.7,445.6 L853.4,425.1 M853,445.6 L851.1,430.6" stroke="#2e2e2e" stroke-width="1.3" fill="none" stroke-linejoin="round" />
<line x1="824.5" y1="399.4" x2="852" y2="399.4" stroke="#2e2e2e" stroke-width="1.3" />
<line x1="823" y1="401.6" x2="853.4" y2="401.6" stroke="#555" stroke-width="1" />
<line x1="823.5" y1="406.6" x2="853" y2="406.6" stroke="#2e2e2e" stroke-width="1.2" />
<line x1="824.5" y1="430.2" x2="852" y2="430.2" stroke="#2e2e2e" stroke-width="1.3" />
<line x1="823" y1="428" x2="853.4" y2="428" stroke="#555" stroke-width="1" />
<line x1="823.5" y1="423" x2="853" y2="423" stroke="#2e2e2e" stroke-width="1.2" />
<path d="M833,406.2 Q834.5,403 837,403 L840,403 Q842.5,403 844,406.2" stroke="#484848" stroke-width="1" fill="none" stroke-linejoin="round" />
<rect x="836.6" y="404" width="3.8" height="2" rx="0" stroke="#333" stroke-width="0.6" fill="#666"/>
<path d="M833,423.4 Q834.5,426.6 837,426.6 L840,426.6 Q842.5,426.6 844,423.4" stroke="#484848" stroke-width="1" fill="none" stroke-linejoin="round" />
<polygon points="836.6,423.4 840.4,423.4 839.2,427.6 837.8,427.6" fill="#666"/>
<path d="M814.4,408.8 L818.4,408.2 L820.4,410.3 L823.4,408.8 L827.4,409.6 L828.4,412.2 L825.4,413.8 L829.0,414.8 L825.4,415.8 L828.4,417.4 L827.4,420.0 L823.4,420.8 L820.4,419.3 L818.4,421.4 L814.4,420.8 L813.4,417.8 L815.4,416.3 L812.8,414.8 L815.4,413.3 L813.4,411.8 Z" stroke="#333" stroke-width="1.1" fill="#b4b4b4" stroke-linejoin="round" />
<ellipse cx="821.4" cy="411.8" rx="5" ry="1.3" fill="#555" transform="rotate(-14 821.4 411.8)"/>
<ellipse cx="821.4" cy="417.8" rx="5" ry="1.3" fill="#555" transform="rotate(14 821.4 417.8)"/>
<ellipse cx="820.4" cy="414.8" rx="4" ry="1" fill="#ddd"/>
<path d="M862.0,408.8 L858.0,408.2 L856.0,410.3 L853.0,408.8 L849.0,409.6 L848.0,412.2 L851.0,413.8 L847.4,414.8 L851.0,415.8 L848.0,417.4 L849.0,420.0 L853.0,420.8 L856.0,419.3 L858.0,421.4 L862.0,420.8 L863.0,417.8 L861.0,416.3 L863.6,414.8 L861.0,413.3 L863.0,411.8 Z" stroke="#333" stroke-width="1.1" fill="#b4b4b4" stroke-linejoin="round" />
<ellipse cx="855" cy="411.8" rx="5" ry="1.3" fill="#555" transform="rotate(14 855 411.8)"/>
<ellipse cx="855" cy="417.8" rx="5" ry="1.3" fill="#555" transform="rotate(-14 855 417.8)"/>
<ellipse cx="856" cy="414.8" rx="4" ry="1" fill="#ddd"/>
<line x1="871.5" y1="383.4" x2="930" y2="383.4" stroke="#555" stroke-width="1" />
<line x1="871.5" y1="445.9" x2="930" y2="445.9" stroke="#555" stroke-width="1" />
<line x1="929" y1="383.4" x2="929" y2="445.9" stroke="#555" stroke-width="1" />
<polygon points="929.00,383.70 930.70,391.20 927.30,391.20" fill="#333"/>
<polygon points="929.00,445.60 927.30,438.10 930.70,438.10" fill="#333"/>
<text x="927.6" y="440.7" font-size="16.17" font-family="'DejaVu Sans Light','DejaVu Sans','Liberation Sans',sans-serif" font-weight="200" fill="#505050" stroke="#505050" stroke-width="0.45" text-anchor="start" textLength="52.7" lengthAdjust="spacingAndGlyphs" transform="rotate(-90 927.6 440.7)">194mm</text>
<line x1="865.8" y1="396.2" x2="900.6" y2="396.2" stroke="#555" stroke-width="1" />
<line x1="865.8" y1="433.3" x2="900.6" y2="433.3" stroke="#555" stroke-width="1" />
<line x1="899.8" y1="396.2" x2="899.8" y2="502.4" stroke="#555" stroke-width="1" />
<polygon points="899.80,396.50 901.50,404.00 898.10,404.00" fill="#333"/>
<polygon points="899.80,433.00 898.10,425.50 901.50,425.50" fill="#333"/>
<text x="898.6" y="500.5" font-size="15.75" font-family="'DejaVu Sans Light','DejaVu Sans','Liberation Sans',sans-serif" font-weight="200" fill="#505050" stroke="#505050" stroke-width="0.45" text-anchor="start" textLength="52.5" lengthAdjust="spacingAndGlyphs" transform="rotate(-90 898.6 500.5)">114mm</text>
<line x1="812.3" y1="446" x2="812.3" y2="552" stroke="#555" stroke-width="1" />
<line x1="865.5" y1="446" x2="865.5" y2="552" stroke="#555" stroke-width="1" />
<line x1="812.3" y1="551" x2="929" y2="551" stroke="#555" stroke-width="1" />
<polygon points="812.60,551.00 820.60,549.30 820.60,552.70" fill="#333"/>
<polygon points="865.20,551.00 857.20,552.70 857.20,549.30" fill="#333"/>
<text x="876.8" y="549.6" font-size="13.65" font-family="'DejaVu Sans Light','DejaVu Sans','Liberation Sans',sans-serif" font-weight="200" fill="#505050" stroke="#505050" stroke-width="0.45" text-anchor="start" textLength="51.2" lengthAdjust="spacingAndGlyphs">165mm</text>
<line x1="805.5" y1="542" x2="805.5" y2="582.3" stroke="#555" stroke-width="1" />
<line x1="872.9" y1="542" x2="872.9" y2="582.3" stroke="#555" stroke-width="1" />
<line x1="805.5" y1="581.3" x2="872.9" y2="581.3" stroke="#555" stroke-width="1" />
<polygon points="805.80,581.30 813.80,579.60 813.80,583.00" fill="#333"/>
<polygon points="872.60,581.30 864.60,583.00 864.60,579.60" fill="#333"/>
<text x="822" y="579.6" font-size="14.07" font-family="'DejaVu Sans Light','DejaVu Sans','Liberation Sans',sans-serif" font-weight="200" fill="#505050" stroke="#505050" stroke-width="0.45" text-anchor="start" textLength="53.2" lengthAdjust="spacingAndGlyphs">204mm</text>
<text y="678.8" font-size="17" font-family="'DejaVu Sans Light','DejaVu Sans','Liberation Sans',sans-serif" font-weight="200" fill="#505050" stroke="#505050" stroke-width="0.3"><tspan x="688.1" textLength="91.4" lengthAdjust="spacingAndGlyphs">EAN:5491#</tspan> <tspan x="791.6" textLength="9.6" lengthAdjust="spacingAndGlyphs" stroke-width="0" fill="#6a6a6a" font-size="19">\</tspan> <tspan x="815.8" textLength="52.3" lengthAdjust="spacingAndGlyphs">2524#</tspan></text>
</g>
</svg>
</body></html>
